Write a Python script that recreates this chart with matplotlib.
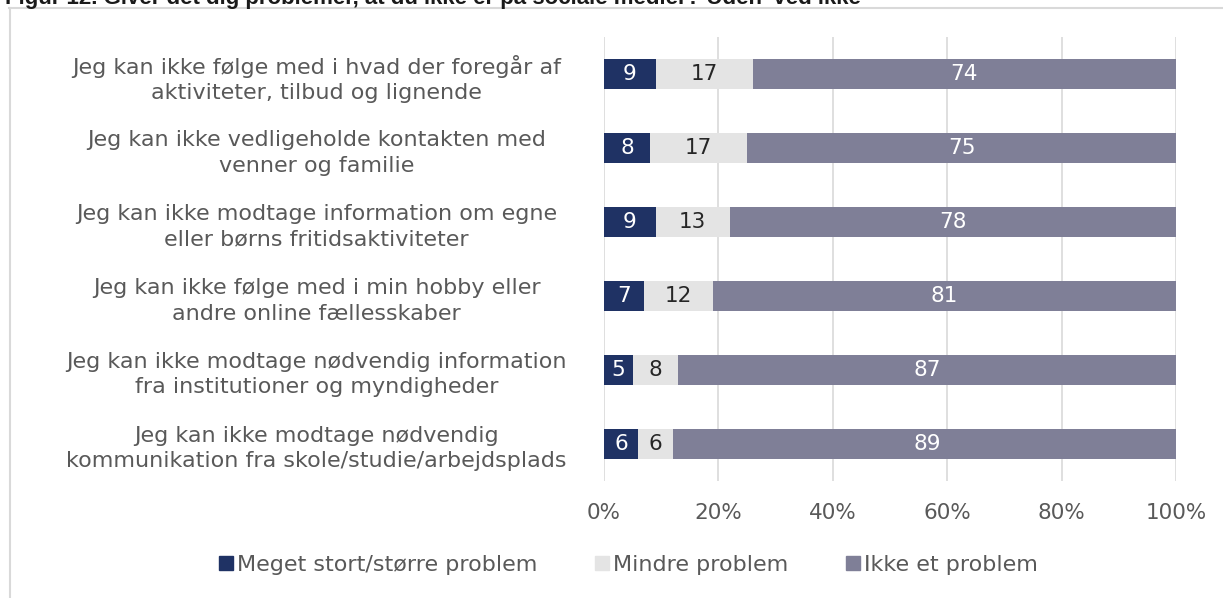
import numpy as np
import matplotlib.pyplot as plt
from matplotlib.lines import Line2D

# ---- data -----------------------------------------------------------
categories = [
    "Jeg kan ikke følge med i hvad der foregår af\naktiviteter, tilbud og lignende",
    "Jeg kan ikke vedligeholde kontakten med\nvenner og familie",
    "Jeg kan ikke modtage information om egne\neller børns fritidsaktiviteter",
    "Jeg kan ikke følge med i min hobby eller\nandre online fællesskaber",
    "Jeg kan ikke modtage nødvendig information\nfra institutioner og myndigheder",
    "Jeg kan ikke modtage nødvendig\nkommunikation fra skole/studie/arbejdsplads",
]
big_problem = [9, 8, 9, 7, 5, 6]
small_problem = [17, 17, 13, 12, 8, 6]
no_problem = [74, 75, 78, 81, 87, 89]
series_names = ["Meget stort/større problem", "Mindre problem", "Ikke et problem"]
x_ticks = [0, 20, 40, 60, 80, 100]
title = "Figur 12. Giver det dig problemer, at du ikke er på sociale medier? Uden 'ved ikke'"

colors = ["#1f3264", "#e4e4e4", "#7f7f97"]
label_colors = ["white", "#262626", "white"]
text_gray = "#595959"
FS = 16

plt.rcParams["font.family"] = ["DejaVu Sans"]

fig = plt.figure(figsize=(12.23, 5.98), dpi=100)
ax = fig.add_axes([0.4939, 0.196, 0.4677, 0.742])

y = np.arange(len(categories))
left = np.zeros(len(categories))
for vals, col, lc, name in zip([big_problem, small_problem, no_problem],
                               colors, label_colors, series_names):
    vals = np.array(vals, dtype=float)
    ax.barh(y, vals, left=left, height=0.4, color=col, label=name, zorder=3)
    for yi, l, v in zip(y, left, vals):
        ax.text(l + v / 2, yi, f"{int(v)}", ha="center", va="center",
                color=lc, fontsize=15.5, zorder=4)
    left = left + vals

ax.set_xlim(0, 100)
ax.set_ylim(len(categories) - 0.5, -0.5)
ax.set_xticks(x_ticks)
ax.set_xticklabels([f"{t}%" for t in x_ticks], color=text_gray, fontsize=15.5)
ax.set_yticks(y)
ax.set_yticklabels(categories, color=text_gray, fontsize=FS,
                   ha="center", linespacing=1.35)
ax.tick_params(axis="y", length=0, pad=207)
ax.tick_params(axis="x", length=0, pad=16)
ax.grid(axis="x", color="#d9d9d9", linewidth=1.2, zorder=0)
for s in ax.spines.values():
    s.set_visible(False)

# legend
handles = [Line2D([], [], marker="s", linestyle="none", markersize=10,
                  markerfacecolor=c, markeredgecolor=c) for c in colors]
fig.legend(handles, series_names, loc="center", bbox_to_anchor=(0.512, 0.055),
           ncol=3, frameon=False, fontsize=FS, handletextpad=0.0,
           handlelength=1.0, columnspacing=2.4, labelcolor=text_gray)

# frame and clipped title
fig.add_artist(Line2D([9 / 1223, 1], [1 - 7.5 / 598, 1 - 7.5 / 598],
                      color="#d9d9d9", linewidth=1.5))
fig.add_artist(Line2D([9.5 / 1223, 9.5 / 1223], [0, 1 - 7.5 / 598],
                      color="#d9d9d9", linewidth=1.5))
fig.text(0.004, 1 - 4.0 / 598, title, fontsize=16, fontweight="bold",
         color="#1a1a1a", ha="left", va="baseline",
         family=["Liberation Sans", "DejaVu Sans"])

fig.savefig("out.png", dpi=100)
